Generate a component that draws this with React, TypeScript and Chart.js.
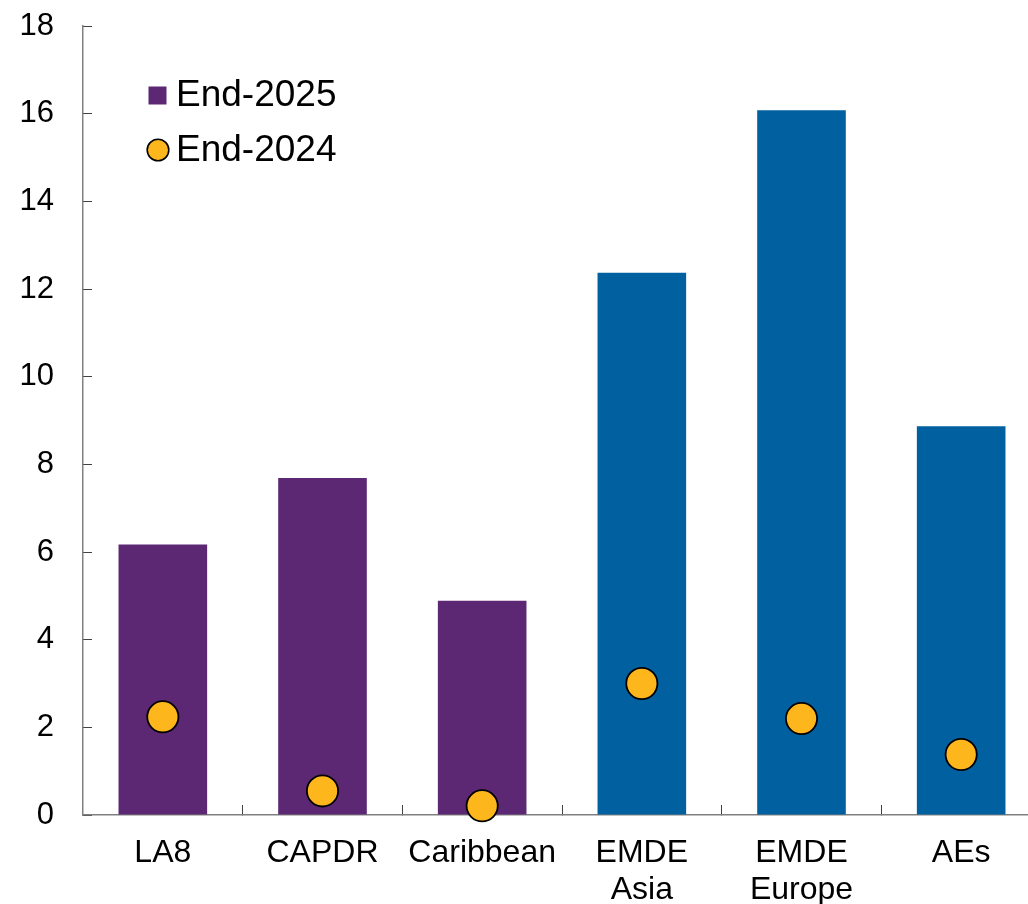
import React, { useEffect, useRef } from "react";
import { Chart, registerables } from "chart.js";

Chart.register(...registerables);

const categories: (string | string[])[] = [
  "LA8",
  "CAPDR",
  "Caribbean",
  ["EMDE", "Asia"],
  ["EMDE", "Europe"],
  "AEs",
];
const end2025: number[] = [6.17, 7.69, 4.89, 12.37, 16.08, 8.87];
const end2024: number[] = [2.24, 0.55, 0.21, 3.0, 2.2, 1.38];
const barColors: string[] = ["#5C2873", "#5C2873", "#5C2873", "#0060A0", "#0060A0", "#0060A0"];
const yTicks: number[] = [0, 2, 4, 6, 8, 10, 12, 14, 16, 18];

const FONT = "'Liberation Sans', Arial, sans-serif";
const PURPLE = "#5C2873";
const YELLOW = "#FDB71C";

const legendPlugin = {
  id: "customLegend",
  afterDraw(chart: any) {
    const ctx = chart.ctx;
    ctx.save();
    ctx.fillStyle = PURPLE;
    ctx.fillRect(148.5, 86.5, 18, 18);
    ctx.beginPath();
    ctx.arc(158, 150, 10.8, 0, Math.PI * 2);
    ctx.fillStyle = YELLOW;
    ctx.fill();
    ctx.lineWidth = 1.6;
    ctx.strokeStyle = "#000";
    ctx.stroke();
    ctx.fillStyle = "#000";
    ctx.font = `37px ${FONT}`;
    ctx.textBaseline = "middle";
    ctx.textAlign = "left";
    const labels = chart.data.datasets.map((d: any) => d.label);
    ctx.fillText(labels[1], 176, 96);
    ctx.fillText(labels[0], 176, 151);
    ctx.restore();
  },
};

export default function App() {
  const ref = useRef<HTMLCanvasElement | null>(null);
  useEffect(() => {
    if (!ref.current) return;
    const chart = new Chart(ref.current, {
      type: "bar",
      data: {
        labels: categories,
        datasets: [
          {
            type: "line",
            label: "End-2024",
            data: end2024,
            showLine: false,
            pointRadius: 15.6,
            pointHoverRadius: 15.6,
            pointBackgroundColor: YELLOW,
            pointBorderColor: "#000",
            pointBorderWidth: 1.8,
            borderColor: "#000",
            backgroundColor: YELLOW,
            clip: false as any,
            order: 0,
          } as any,
          {
            type: "bar",
            label: "End-2025",
            data: end2025,
            backgroundColor: barColors,
            borderWidth: 0,
            barPercentage: 1,
            categoryPercentage: 0.555,
            order: 1,
          },
        ],
      },
      options: {
        responsive: false,
        animation: false,
        layout: { padding: { top: 26, right: 18, bottom: 0, left: 0 } },
        plugins: {
          legend: { display: false },
          tooltip: { enabled: false },
        },
        scales: {
          x: {
            grid: {
              drawOnChartArea: false,
              drawTicks: true,
              tickLength: -10,
              tickColor: "#404040",
              tickWidth: 1,
              offset: true,
            },
            border: { color: "#808080", width: 1.5 },
            ticks: {
              color: "#000",
              font: { family: FONT, size: 32, lineHeight: 1.15 },
              padding: 30,
              maxRotation: 0,
              autoSkip: false,
            },
            afterFit(scale: any) {
              scale.height = 89;
              scale.paddingLeft = 0;
              scale.paddingRight = 0;
            },
          },
          y: {
            min: 0,
            max: 18,
            afterBuildTicks(scale: any) {
              scale.ticks = yTicks.map((v) => ({ value: v }));
            },
            grid: {
              drawOnChartArea: false,
              drawTicks: true,
              tickLength: -9,
              tickColor: "#404040",
              tickWidth: 1,
            },
            border: { color: "#808080", width: 1.5 },
            ticks: {
              color: "#000",
              font: { family: FONT, size: 31 },
              padding: 38,
            },
            afterFit(scale: any) {
              scale.width = 83;
              scale.paddingTop = 0;
              scale.paddingBottom = 0;
            },
          },
        },
      },
      plugins: [legendPlugin],
    });
    return () => chart.destroy();
  }, []);
  return (
    <div
      style={{
        position: "fixed",
        left: 0,
        top: 0,
        width: 1028,
        height: 904,
        overflow: "hidden",
        background: "#fff",
      }}
    >
      <canvas ref={ref} width={1059} height={904} style={{ display: "block" }} />
    </div>
  );
}
